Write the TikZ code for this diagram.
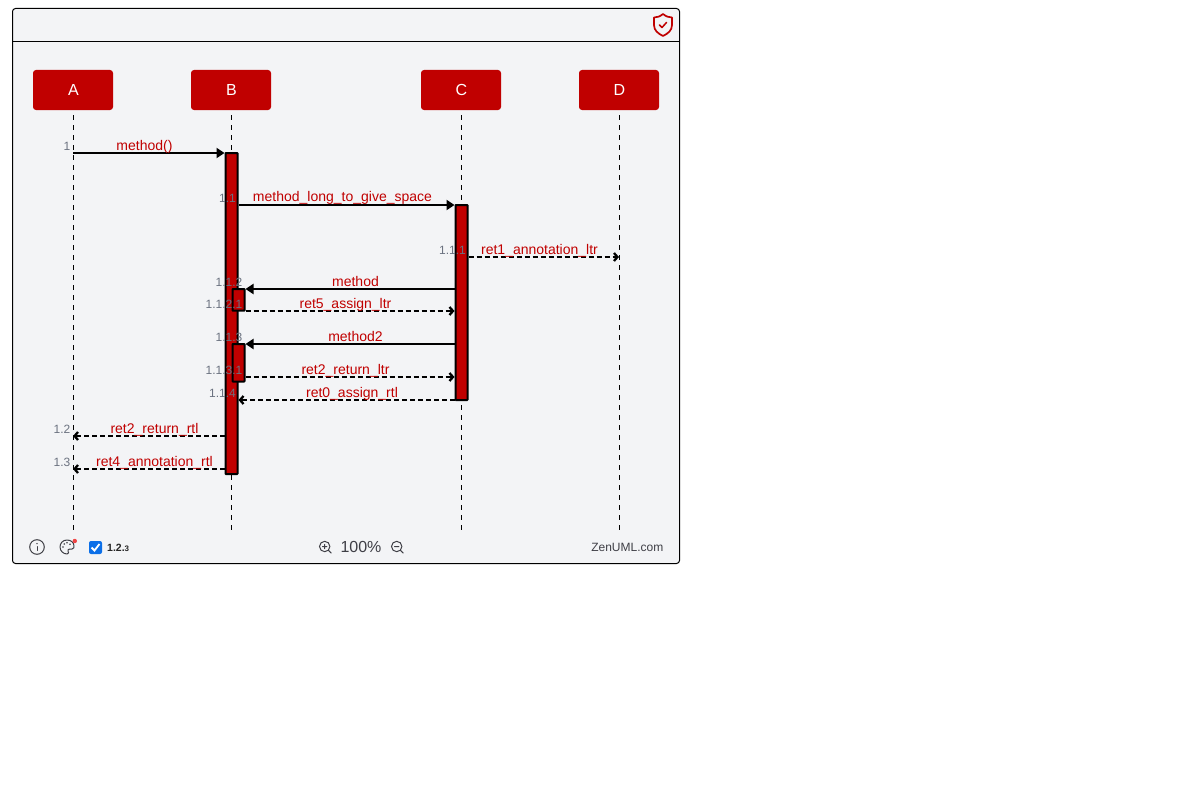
\documentclass[tikz,border=0pt]{standalone}
\usepackage{fontspec}
\setmainfont{Liberation Sans}
\usepackage{xcolor}
\usetikzlibrary{arrows.meta}
\definecolor{themered}{HTML}{C00000}
\definecolor{panelbg}{HTML}{F3F4F6}
\definecolor{numgray}{HTML}{6B7280}
\definecolor{icongray}{HTML}{3F3F46}
\definecolor{tickblue}{HTML}{0B6FE8}
\definecolor{dotred}{HTML}{EF4444}

\begin{document}
\begin{tikzpicture}[x=1pt,y=-1pt,
  actor/.style={fill=themered,text=white,rounded corners=3pt,minimum width=80pt,minimum height=40pt,inner sep=0pt,font=\fontsize{16}{18}\selectfont},
  lifeline/.style={line width=1pt,dash pattern=on 5pt off 5pt},
  bar/.style={draw=black,fill=themered,line width=2pt,rounded corners=0.5pt,minimum width=12pt,inner sep=0pt,anchor=north},
  syncmsg/.style={line width=2pt,-{Triangle[length=8pt,width=10pt]}},
  retmsg/.style={line width=2pt,dash pattern=on 5pt off 3pt,-{Straight Barb[length=3.5pt,width=8pt,line width=2.3pt]}},
  msglab/.style={text=themered,anchor=base,inner sep=0pt,font=\fontsize{14}{16}\selectfont},
  numlab/.style={text=numgray,anchor=base east,inner sep=0pt,font=\fontsize{12}{14}\selectfont},
  icon/.style={draw=icongray,line width=1pt,line cap=round},
  foot/.style={text=icongray,inner sep=0pt}]
\useasboundingbox (0,0) rectangle (1200,800);
% frame and header
\draw[fill=panelbg,line width=1pt,rounded corners=3pt] (12.5,8.5) rectangle (679.5,563.5);
\draw[line width=1pt] (12.5,41.5) -- (679.5,41.5);
% shield
\draw[draw=themered,line width=1.7pt,line join=round] (663,14) .. controls (660,16.5) and (657,17.5) .. (654,17.5) -- (654,25) .. controls (654,30.5) and (658,33.5) .. (663,36) .. controls (668,33.5) and (672,30.5) .. (672,25) -- (672,17.5) .. controls (669,17.5) and (666,16.5) .. (663,14) -- cycle;
\draw[draw=themered,line width=1.5pt,line cap=round,line join=round] (659.5,25) -- (662,27.5) -- (666.5,22.5);
% participants
\foreach \nam/\xx in {A/73,B/231,C/461,D/619}{
  \node[actor] (\nam) at (\xx,90) {\hspace*{1pt}\nam};
  \coordinate (\nam top) at (\xx,115);
  \coordinate (\nam end) at (\xx,530);
  \draw[lifeline] (\nam top) -- (\nam end);
}
% activations
\node[bar,minimum height=321pt] (barB) at (231.5,152) {};
\node[bar,minimum height=195pt] (barC) at (461.5,204) {};
\node[bar,minimum height=21.7pt] (barBa) at (238.5,288) {};
\node[bar,minimum height=37.5pt] (barBb) at (238.5,343) {};
% messages
\foreach \nam/\src/\dst/\yy/\sty/\txt/\labx/\num/\numx in {
  mOne/A/barB.west/153/syncmsg/{method()}/144.5/1/70.5,
  mOneOne/barB.east/barC.west/205/syncmsg/{\raisebox{1pt}{method\_long\_to\_give\_space}}/342.5/1.1/236,
  mRetOne/barC.east/D/257/retmsg/{ret1\_annotation\_ltr}/539.5/1.1.1/466,
  mCall/barC.west/barBa.east/289/syncmsg/{method}/355.5/1.1.2/242.5,
  mRetFive/barBa.east/barC.west/311/retmsg/{ret5\_assign\_ltr}/345.5/1.1.2.1/242.5,
  mCallTwo/barC.west/barBb.east/344/syncmsg/{method2}/355.5/1.1.3/242.5,
  mRetTwo/barBb.east/barC.west/377/retmsg/{ret2\_return\_ltr}/345.5/1.1.3.1/242.5,
  mRetZero/barC.west/barB.east/400/retmsg/{ret0\_assign\_rtl}/352/1.1.4/236,
  mRetRtl/barB.west/A/436/retmsg/{ret2\_return\_rtl}/154.5/1.2/70.5,
  mRetFour/barB.west/A/469/retmsg/{ret4\_annotation\_rtl}/154.5/1.3/70.5}{
  \coordinate (\nam) at (0,\yy);
  \draw[\sty] (\src |- \nam) -- (\dst |- \nam);
  \node[msglab] (\nam lab) at (\labx,\yy-3) {\txt};
  \node[numlab] (\nam num) at (\numx,\yy-3) {\num};
}
% footer
\draw[icon] (37,547) circle (7.3);
\draw[icon] (37,546.5) -- (37,550.5);
\fill[icongray] (37,543.6) circle (0.8);
\draw[icon,line join=round] (67,540) .. controls (62.5,540) and (60,543.5) .. (60,547) .. controls (60,551) and (63.5,554) .. (67,554) .. controls (69,554) and (68.8,552) .. (68,551) .. controls (67.6,549.8) and (68.5,549) .. (70,549) -- (72,549) .. controls (74,549) and (74,547) .. (74,546) .. controls (74,542.5) and (71,540) .. (67,540) -- cycle;
\foreach \dotx/\doty in {63/547,64.2/544,67/542.8,70/544.2}{ \fill[icongray] (\dotx,\doty) circle (0.9); }
\fill[dotred] (74.8,541) circle (2.2);
\fill[tickblue] (89,541) [rounded corners=2pt] rectangle (102,554);
\draw[white,line width=1.8pt] (91.5,547.5) -- (94.5,550.5) -- (99.5,544);
\node[foot,anchor=base west,text=black!85] (numtoggle) at (107,551.5) {\fontsize{10.5}{12}\selectfont\bfseries 1.2.\fontsize{8}{10}\selectfont 3};
\draw[icon] (324.7,546.5) circle (5.2) (328.5,550.3) -- (331.2,553) (322.5,546.5) -- (326.9,546.5) (324.7,544.3) -- (324.7,548.7);
\node[foot] (zoomval) at (361,547) {\fontsize{16}{18}\selectfont 100\%};
\draw[icon] (396.7,546.5) circle (5.2) (400.5,550.3) -- (403.2,553) (394.5,546.5) -- (398.9,546.5);
\node[foot,anchor=base east] (brand) at (663.5,551.5) {\fontsize{12}{14}\selectfont ZenUML.com};
\end{tikzpicture}
\end{document}
